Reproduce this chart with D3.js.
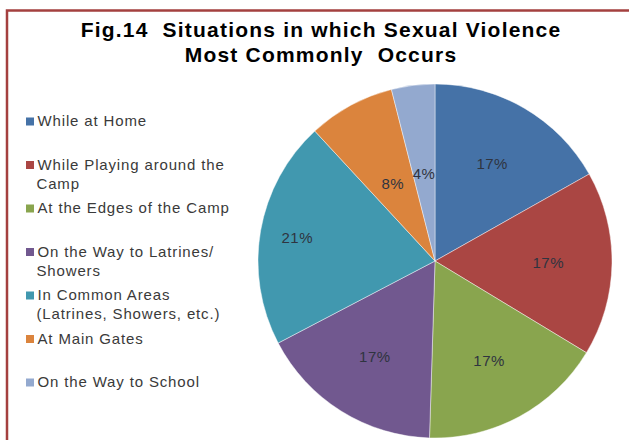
<!DOCTYPE html>
<html>
<head>
<meta charset="utf-8">
<script src="https://cdn.jsdelivr.net/npm/d3@7"></script>
<style>
  html, body { margin: 0; padding: 0; background: #fff; }
  svg { display: block; }
</style>
</head>
<body>
<svg id="chart" width="629" height="440"></svg>
<script>
// Situations and their share of reported cases (percent)
const categories = [
  "While at Home",
  "While Playing around the\nCamp",
  "At the Edges of the Camp",
  "On the Way to Latrines/\nShowers",
  "In Common Areas\n(Latrines, Showers, etc.)",
  "At Main Gates",
  "On the Way to School"
];
const shares = [17, 17, 17, 17, 21, 8, 4];
const colors = ["#4572A7", "#AA4643", "#89A54E", "#71588F", "#4198AF", "#DB843D", "#93A9CF"];
const titleLines = ["Fig.14  Situations in which Sexual Violence", "Most Commonly  Occurs"];

const svg = d3.select("#chart");
const W = 629, H = 440;

// Frame
svg.append("path")
  .attr("d", `M7,${H} L7,10.5 L${W},10.5`)
  .attr("fill", "none")
  .attr("stroke", "#A4403F")
  .attr("stroke-width", 2.5);

// Title
svg.append("g")
  .selectAll("text")
  .data(titleLines)
  .join("text")
  .attr("x", 321)
  .attr("y", (d, i) => 37 + i * 25)
  .attr("text-anchor", "middle")
  .attr("font-family", "Liberation Sans, Arial, sans-serif")
  .attr("font-weight", "bold")
  .attr("font-size", 21)
  .attr("letter-spacing", 1.2)
  .attr("fill", "#000")
  .attr("xml:space", "preserve")
  .style("white-space", "pre")
  .text(d => d);

// Pie
const cx = 435, cy = 261, r = 177;
const pie = d3.pie().sort(null).value(d => d)(shares);
const arc = d3.arc().innerRadius(0).outerRadius(r);

const g = svg.append("g").attr("transform", `translate(${cx},${cy})`);
g.selectAll("path")
  .data(pie)
  .join("path")
  .attr("d", arc)
  .attr("fill", (d, i) => colors[i])
  .attr("stroke", "rgba(255,255,255,0.55)")
  .attr("stroke-width", 0.8);

const total = d3.sum(shares);
// narrow slices keep their label nearer the centre, the widest one pushes it outward
const labelRadius = d => {
  const s = d.value / total;
  return r * (s < 0.1 ? 0.5 : s > 0.2 ? 0.79 : 0.64);
};
g.selectAll("text")
  .data(pie)
  .join("text")
  .attr("transform", d => {
    const a = (d.startAngle + d.endAngle) / 2;
    const lr = labelRadius(d);
    return `translate(${Math.sin(a) * lr},${-Math.cos(a) * lr})`;
  })
  .attr("text-anchor", "middle")
  .attr("dy", "0.36em")
  .attr("font-family", "Liberation Sans, Arial, sans-serif")
  .attr("font-size", 15)
  .attr("letter-spacing", 0.5)
  .attr("fill", "#2f3440")
  .text(d => d.value + "%");

// Legend
const legend = svg.append("g");
const items = legend.selectAll("g")
  .data(categories)
  .join("g")
  .attr("transform", (d, i) => `translate(0,${126 + i * 43.5})`);

items.append("rect")
  .attr("x", 26)
  .attr("y", -8.5)
  .attr("width", 8)
  .attr("height", 8)
  .attr("fill", (d, i) => colors[i]);

items.append("text")
  .attr("font-family", "Liberation Sans, Arial, sans-serif")
  .attr("font-size", 15)
  .attr("letter-spacing", 0.85)
  .attr("fill", "#3a3a3a")
  .selectAll("tspan")
  .data(d => d.split("\n"))
  .join("tspan")
  .attr("x", (d, i) => i === 0 ? 37.5 : 36.5)
  .attr("y", (d, i) => i * 19)
  .text(d => d);
</script>
</body>
</html>
